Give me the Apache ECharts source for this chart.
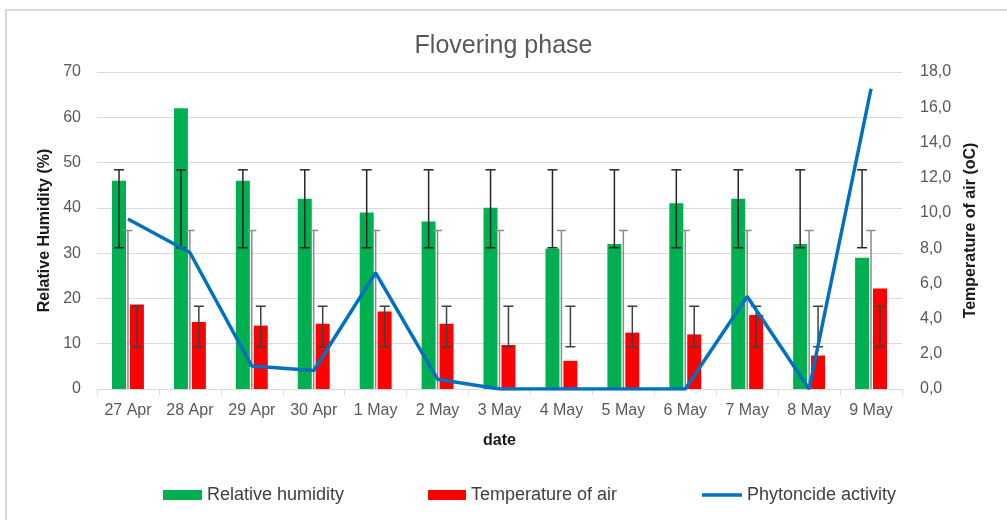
<!DOCTYPE html>
<html lang="en">
<head>
    <meta charset="UTF-8">
    <title>Flovering phase</title>
    <script src="https://cdn.jsdelivr.net/npm/echarts@6/dist/echarts.min.js"></script>
    <style type="text/css">
        html, body {
            margin: 0;
            padding: 0;
            background: #fff;
        }

        #chart {
            width: 1007px;
            height: 520px;
        }
    </style>
</head>
<body>
<div id="chart"></div>
<script type="text/javascript">
    // data
    const dates = ['27 Apr', '28 Apr', '29 Apr', '30 Apr', '1 May', '2 May', '3 May',
        '4 May', '5 May', '6 May', '7 May', '8 May', '9 May'];
    const humidity = [46, 62, 46, 42, 39, 37, 40, 31, 32, 41, 42, 32, 29];  // left axis, %
    const airTemp = [4.8, 3.8, 3.6, 3.7, 4.4, 3.7, 2.5, 1.6, 3.2, 3.1, 4.2, 1.9, 5.7];  // right axis
    const phytoncide = [9.65, 7.75, 1.3, 1.05, 6.6, 0.55, 0, 0, 0, 0, 5.25, 0, 17.05];  // right axis

    // error bars: low / high ends
    const humidityLow = [31.2, 31.2, 31.2, 31.2, 31.2, 31.2, 31.2, 31.2, 31.2, 31.2, 31.2, 31.2, 31.2];
    const humidityHigh = [48.4, 48.4, 48.4, 48.4, 48.4, 48.4, 48.4, 48.4, 48.4, 48.4, 48.4, 48.4, 48.4];
    const airTempLow = [2.4, 2.4, 2.4, 2.4, 2.4, 2.4, 2.4, 2.4, 2.4, 2.4, 2.4, 2.4, 2.4];
    const airTempHigh = [4.7, 4.7, 4.7, 4.7, 4.7, 4.7, 4.7, 4.7, 4.7, 4.7, 4.7, 4.7, 4.7];
    const phytoLow = [0, 0, 0, 0, 0, 0, 0, 0, 0, 0, 0, 0, 0];
    const phytoHigh = [9.0, 9.0, 9.0, 9.0, 9.0, 9.0, 9.0, 9.0, 9.0, 9.0, 9.0, 9.0, 9.0];

    const leftTicks = {min: 0, max: 70, interval: 10};
    const rightTicks = {min: 0, max: 18, interval: 2};

    const FONT = '"Liberation Sans", Arial, sans-serif';
    const BAR_W = 14;
    const BAR_GAP = 0.28;
    const OFFSET = BAR_W * (1 + BAR_GAP) / 2;

    function errData(low, high) {
        return low.map((v, i) => [i, v, high[i]]);
    }

    // draws a vertical error bar with caps, shifted sideways to sit on its bar
    function errorBar(offset, color, capW) {
        return function (params, api) {
            let i = api.value(0);
            let lo = api.coord([i, api.value(1)]);
            let hi = api.coord([i, api.value(2)]);
            let x = lo[0] + offset;
            let style = {stroke: color, lineWidth: 1.5};
            let kids = [
                {type: 'line', shape: {x1: x, y1: hi[1], x2: x, y2: lo[1]}, style: style},
                {type: 'line', shape: {x1: x - capW / 2, y1: hi[1], x2: x + capW / 2, y2: hi[1]}, style: style}
            ];
            if (api.value(1) > 0) {
                kids.push({type: 'line', shape: {x1: x - capW / 2, y1: lo[1], x2: x + capW / 2, y2: lo[1]}, style: style});
            }
            return {type: 'group', children: kids};
        };
    }

    const chart = echarts.init(document.getElementById('chart'), null, {renderer: 'canvas'});

    const legendText = {fontFamily: FONT, fontSize: 18, color: '#404040'};

    const option = {
        backgroundColor: '#fff',
        animation: false,
        textStyle: {fontFamily: FONT},
        title: {
            text: 'Flovering phase',
            left: 'center',
            top: 29,
            textStyle: {fontFamily: FONT, fontSize: 25, fontWeight: 'normal', color: '#595959'}
        },
        graphic: [{
            type: 'rect',
            shape: {x: 6, y: 10, width: 1010, height: 520},
            style: {fill: 'none', stroke: '#d9d9d9', lineWidth: 2},
            silent: true
        }],
        legend: [
            {data: ['Relative humidity'], left: 158, top: 481, itemWidth: 39, itemHeight: 10},
            {data: ['Temperature of air'], left: 423, top: 481, itemWidth: 38, itemHeight: 10},
            {data: ['Phytoncide activity'], left: 697, top: 481, itemWidth: 40, itemHeight: 3.5}
        ].map(l => Object.assign(l, {icon: 'rect', itemGap: 5, textStyle: legendText})),
        grid: {left: 97, right: 105, top: 72, bottom: 131, containLabel: false},
        xAxis: {
            type: 'category',
            data: dates,
            name: 'date',
            nameLocation: 'middle',
            nameGap: 44,
            nameTextStyle: {fontFamily: FONT, fontSize: 16, fontWeight: 'bold', color: '#1a1a1a'},
            axisLine: {lineStyle: {color: '#d9d9d9', width: 1}},
            axisTick: {show: true, length: 6, lineStyle: {color: '#d9d9d9'}},
            axisLabel: {fontFamily: FONT, fontSize: 16, color: '#595959', margin: 14}
        },
        yAxis: [{
            type: 'value',
            min: leftTicks.min, max: leftTicks.max, interval: leftTicks.interval,
            name: 'Relative Humidity (%)',
            nameLocation: 'middle',
            nameRotate: 90,
            nameGap: 44,
            nameTextStyle: {fontFamily: FONT, fontSize: 16, fontWeight: 'bold', color: '#1a1a1a'},
            axisLine: {show: false},
            axisTick: {show: false},
            splitLine: {lineStyle: {color: '#d9d9d9', width: 1}},
            axisLabel: {fontFamily: FONT, fontSize: 16, color: '#595959', margin: 16}
        }, {
            type: 'value',
            position: 'right',
            min: rightTicks.min, max: rightTicks.max, interval: rightTicks.interval,
            name: 'Temperature of air (oC)',
            nameLocation: 'middle',
            nameRotate: 90,
            nameGap: 61,
            nameTextStyle: {fontFamily: FONT, fontSize: 16, fontWeight: 'bold', color: '#1a1a1a'},
            axisLine: {show: false},
            axisTick: {show: false},
            splitLine: {show: false},
            axisLabel: {
                fontFamily: FONT, fontSize: 16, color: '#595959', margin: 18,
                formatter: v => v.toFixed(1).replace('.', ',')
            }
        }],
        series: [{
            name: 'Relative humidity',
            type: 'bar',
            yAxisIndex: 0,
            data: humidity,
            barWidth: BAR_W,
            barGap: (BAR_GAP * 100) + '%',
            itemStyle: {color: '#00b050'},
            z: 2
        }, {
            name: 'Temperature of air',
            type: 'bar',
            yAxisIndex: 1,
            data: airTemp,
            barWidth: BAR_W,
            barGap: (BAR_GAP * 100) + '%',
            itemStyle: {color: '#ff0000'},
            z: 2
        }, {
            name: 'hum-err',
            type: 'custom',
            yAxisIndex: 0,
            data: errData(humidityLow, humidityHigh),
            encode: {x: 0, y: [1, 2]},
            renderItem: errorBar(-OFFSET, '#262626', 10),
            z: 3
        }, {
            name: 'temp-err',
            type: 'custom',
            yAxisIndex: 1,
            data: errData(airTempLow, airTempHigh),
            encode: {x: 0, y: [1, 2]},
            renderItem: errorBar(OFFSET, '#404040', 10),
            z: 3
        }, {
            name: 'phyto-err',
            type: 'custom',
            yAxisIndex: 1,
            data: errData(phytoLow, phytoHigh),
            encode: {x: 0, y: [1, 2]},
            renderItem: errorBar(0, '#8c8c8c', 9),
            z: 3
        }, {
            name: 'Phytoncide activity',
            type: 'line',
            yAxisIndex: 1,
            data: phytoncide,
            symbol: 'none',
            lineStyle: {color: '#0070c0', width: 3.5},
            itemStyle: {color: '#0070c0'},
            z: 4
        }]
    };

    chart.setOption(option);
</script>
</body>
</html>
